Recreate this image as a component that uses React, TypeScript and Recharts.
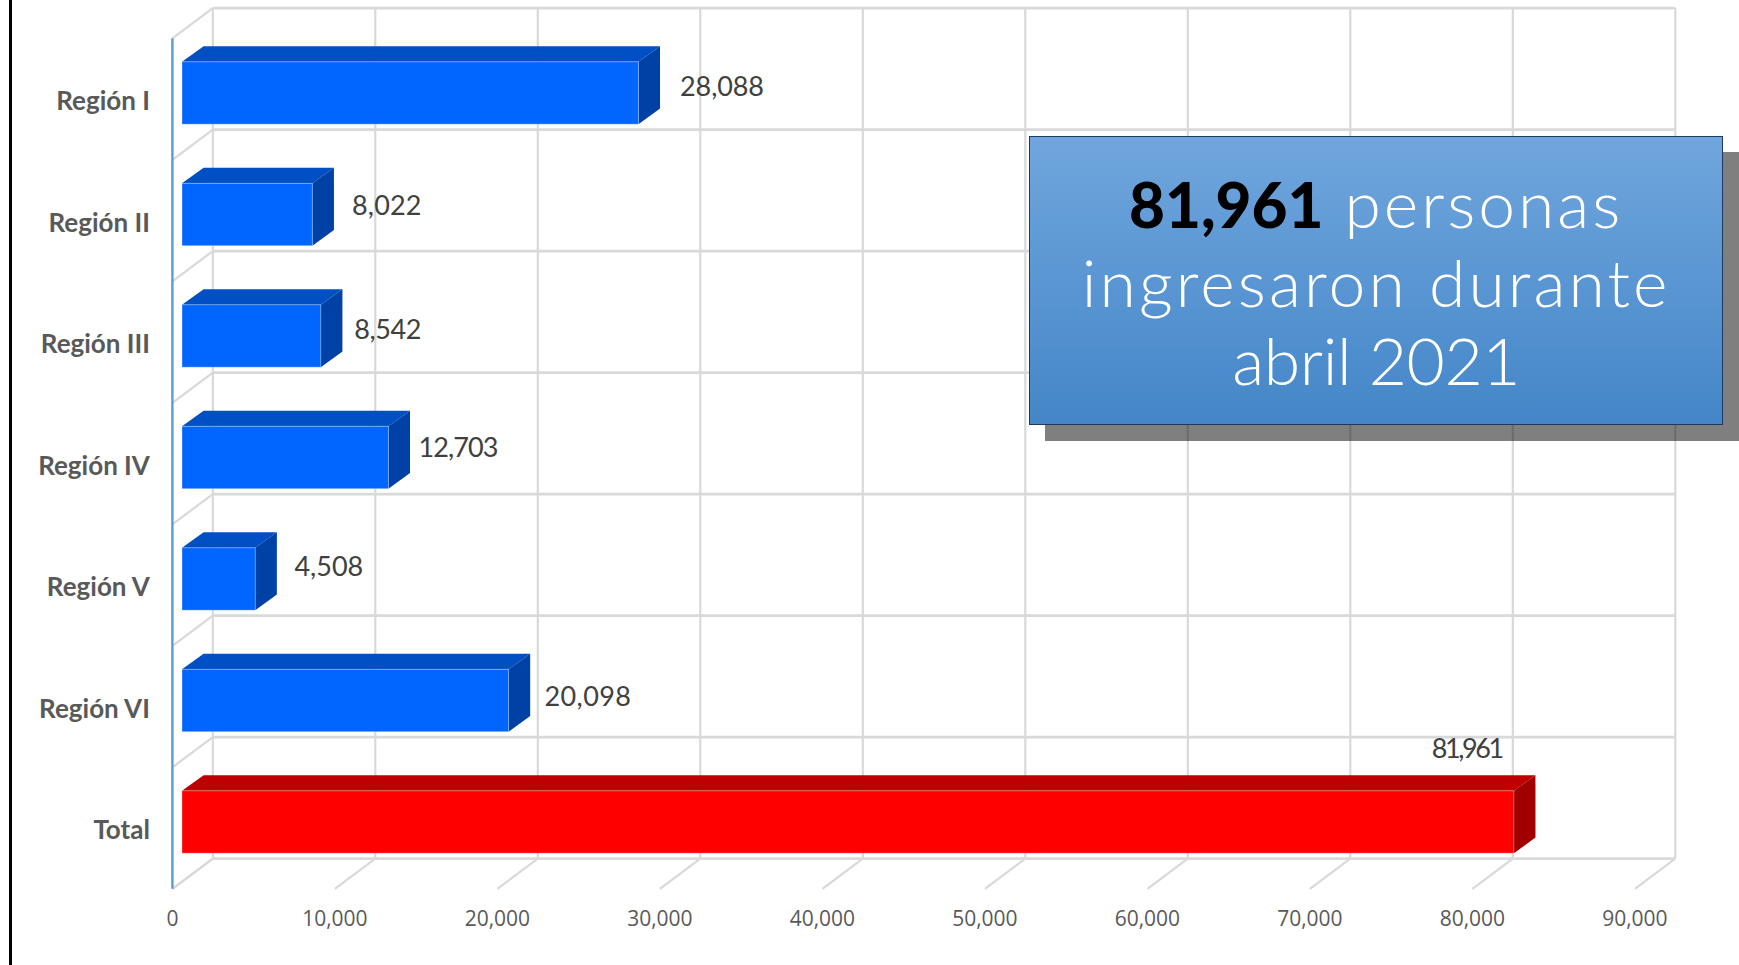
import React from "react";
import { BarChart, Bar, XAxis, YAxis, CartesianGrid, LabelList } from "recharts";

const categories = ["Región I", "Región II", "Región III", "Región IV", "Región V", "Región VI", "Total"];
const persons = [28088, 8022, 8542, 12703, 4508, 20098, 81961];
const xTicks = [0, 10000, 20000, 30000, 40000, 50000, 60000, 70000, 80000, 90000];
const bandEdges = [0, 1, 2, 3, 4, 5, 6, 7];
const data = categories.map((name, i) => ({ name, persons: persons[i] }));

// hand-placed label offsets from bar end / band centre
const labelDx = [51.2, 49.2, 43, 39.6, 48.8, 45.5, -72.6];
const labelDy = [-14, -16.8, -14, -17.5, -20.3, -12, -81.3];
const labelSpacing = [-0.1, 0.2, -0.4, -0.9, 0, 0.4, -2.4];

const BLUE = { front: "#0066FF", top: "#004FC4", side: "#0041A5" };
const RED = { front: "#FF0000", top: "#BE0000", side: "#A00000" };

const W = 1739;
const H = 965;
const PLOT_L = 172.4;
const PLOT_T = 38.3;
const PLOT_W = 1462.5;
const PLOT_H = 850.5;
const DEPTH_X = 40.4;
const DEPTH_Y = 30.2;
const GRID = "#D9D9D9";
const GRID_W = 2.2;

const HLine = (p: any) => (
  <g key={p.key ?? `h${p.y1}`}>
    <line x1={p.x1} y1={p.y1} x2={p.x1 + DEPTH_X} y2={p.y1 - DEPTH_Y} stroke={GRID} strokeWidth={GRID_W} />
    <line x1={p.x1 + DEPTH_X} y1={p.y1 - DEPTH_Y} x2={p.x2 + DEPTH_X} y2={p.y1 - DEPTH_Y} stroke={GRID} strokeWidth={GRID_W + 0.6} />
  </g>
);

const VLine = (p: any) => (
  <g key={p.key ?? `v${p.x1}`}>
    <line x1={p.x1} y1={p.y2} x2={p.x1 + DEPTH_X} y2={p.y2 - DEPTH_Y} stroke={GRID} strokeWidth={GRID_W} />
    <line x1={p.x1 + DEPTH_X} y1={p.y1 - DEPTH_Y} x2={p.x1 + DEPTH_X} y2={p.y2 - DEPTH_Y} stroke={GRID} strokeWidth={GRID_W} />
  </g>
);

const Bar3D = (p: any) => {
  const c = p.index === categories.length - 1 ? RED : BLUE;
  const x = p.x + 9.6;
  const y = p.y - 6.5;
  const w = p.width;
  const h = p.height;
  const dx = 21.6;
  const dy = 15.6;
  return (
    <g>
      <polygon points={`${x},${y} ${x + dx},${y - dy} ${x + w + dx},${y - dy} ${x + w},${y}`} fill={c.top} />
      <polygon points={`${x + w},${y} ${x + w + dx},${y - dy} ${x + w + dx},${y + h - dy} ${x + w},${y + h}`} fill={c.side} />
      <rect x={x} y={y} width={w} height={h} fill={c.front} stroke="#fff" strokeOpacity={0.3} strokeWidth={1} />
    </g>
  );
};

const ValueLabel = (p: any) => {
  const i = p.index;
  return (
    <text
      x={p.x + p.width + labelDx[i]}
      y={p.y + p.height / 2 + labelDy[i]}
      dominantBaseline="central"
      fontFamily="Lato"
      fontSize={27}
      letterSpacing={labelSpacing[i]}
      fill="#404040"
    >
      {Number(p.value).toLocaleString("en-US")}
    </text>
  );
};

export default function App() {
  return (
    <div style={{ position: "absolute", left: 0, top: 0, width: W, height: H, overflow: "hidden", background: "#fff" }}>
      <BarChart
        width={W}
        height={H}
        data={data}
        layout="vertical"
        barSize={62.4}
        margin={{ top: PLOT_T, left: 0, right: W - PLOT_L - PLOT_W, bottom: 26.2 }}
      >
        <CartesianGrid
          horizontal={HLine}
          vertical={VLine}
          horizontalPoints={bandEdges.map((e) => PLOT_T + (e * PLOT_H) / categories.length)}
        />
        <XAxis
          type="number"
          domain={[0, 90000]}
          ticks={xTicks}
          interval={0}
          height={50}
          axisLine={false}
          tickLine={false}
          tickMargin={16}
          tickFormatter={(v: number) => v.toLocaleString("en-US")}
          tick={{ fontFamily: "Open Sans", fontSize: 21, fill: "#595959" }}
        />
        <YAxis
          type="category"
          dataKey="name"
          width={PLOT_L}
          interval={0}
          tickLine={false}
          tickMargin={16.5}
          axisLine={{ stroke: "#5B9BD5", strokeWidth: 2.4 }}
          tick={{ fontFamily: "Lato", fontWeight: 700, fontSize: 26, fill: "#595959", dy: 2 }}
        />
        <Bar dataKey="persons" isAnimationActive={false} shape={Bar3D}>
          <LabelList dataKey="persons" content={ValueLabel} />
        </Bar>
      </BarChart>

      <div style={{ position: "absolute", left: 9.4, top: 0, width: 2.2, height: H, background: "#000" }} />
      <div style={{ position: "absolute", left: 1044.8, top: 151.7, width: 700, height: 289, background: "rgba(0,0,0,0.5)" }} />
      <div
        style={{
          position: "absolute",
          left: 1029.2,
          top: 135.7,
          width: 694,
          height: 289.4,
          boxSizing: "border-box",
          border: "1.2px solid #1F3A5F",
          background: "linear-gradient(#70A6DD, #4486C8)",
          color: "#fff",
          fontFamily: "Lato",
          fontWeight: 300,
          fontSize: 66,
          lineHeight: "78px",
          textAlign: "center",
          paddingTop: 27,
          whiteSpace: "nowrap",
        }}
      >
        <div style={{ letterSpacing: 3 }}>
          <b style={{ color: "#000", fontWeight: 900, fontSize: 62, letterSpacing: 0 }}>81,961</b> personas
        </div>
        <div style={{ letterSpacing: 3.1 }}>ingresaron durante</div>
        <div style={{ letterSpacing: -0.4 }}>abril 2021</div>
      </div>
    </div>
  );
}
